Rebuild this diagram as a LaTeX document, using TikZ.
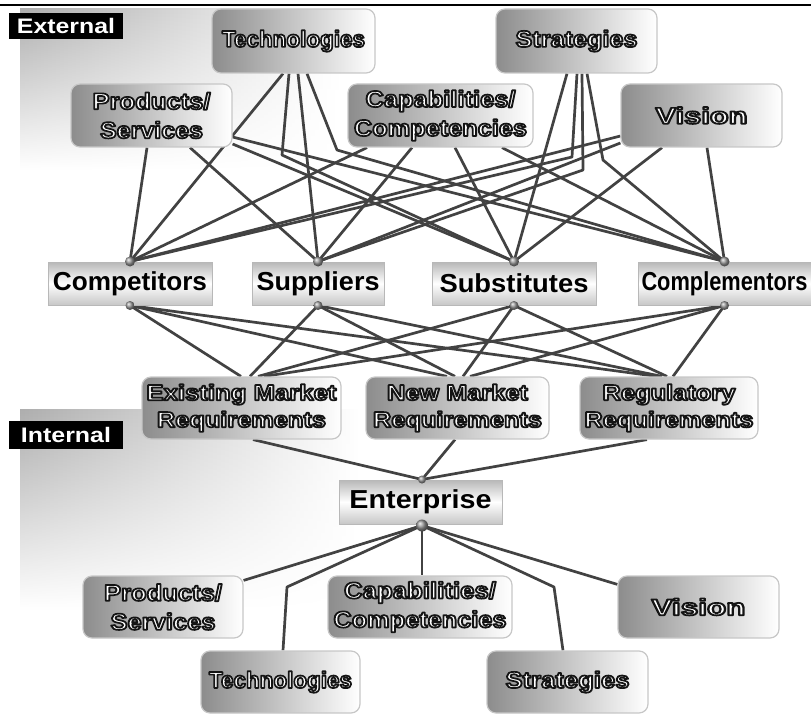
\documentclass[tikz,border=0pt]{standalone}
\usepackage{fontspec}
\setmainfont{Liberation Sans}
\usepackage{graphicx}
\usetikzlibrary{fadings}

\pgfdeclarelayer{bg}
\pgfdeclarelayer{edges}
\pgfsetlayers{bg,edges,main}

% stretch a line of text horizontally to a given width, keeping its height
\newcommand\fitw[2]{\resizebox{#1pt}{\height}{#2}}
% white lettering with a dark outline (fill + stroke render mode), stretched to a width
\newcommand\ow[2]{\fitw{#1}{%
  \special{pdf:literal direct q 2 Tr 1.7 w 1 j 0.08 0.08 0.08 RG}#2\special{pdf:literal direct Q}}}

\tikzset{
  item/.style={rounded corners=9pt, draw=black!22, line width=1.2pt,
    left color=black!45, right color=white, text=white, align=center,
    inner sep=0pt, font=\bfseries\fontsize{23}{29}\selectfont},
  req/.style={item, font=\bfseries\fontsize{22}{27}\selectfont},
  actor/.style={draw=black!28, line width=1pt, top color=black!28,
    bottom color=black!22, middle color=white, inner sep=0pt,
    font=\bfseries\fontsize{26}{28}\selectfont},
  tag/.style={fill=black, text=white, inner sep=0pt,
    font=\bfseries\fontsize{21}{22}\selectfont},
  link/.style={draw=black!74, line width=2.7pt, line join=round},
  joint/.style={circle, inner sep=0pt, minimum size=10pt, ball color=black!40},
}

\begin{document}
\begin{tikzpicture}[x=1pt,y=-1pt]
\useasboundingbox (0,0) rectangle (811,714);

% shaded zones behind the two halves
\begin{pgfonlayer}{bg}
  \shade[left color=black!32, right color=white, path fading=south]
    (20,8) rectangle (340,170);
  \shade[left color=black!32, right color=white, path fading=south]
    (20,410) rectangle (360,610);
\end{pgfonlayer}

% rule across the top
\draw[line width=2.6pt] (0,5) -- (811,5);

% zone tags
\node[tag, minimum width=114pt, minimum height=26pt] (ext) at (66,26) {\fitw{98}{External}};
\node[tag, minimum width=114pt, minimum height=28pt] (int) at (66,435) {\fitw{90}{Internal}};

% external factors
\node[item, minimum width=163pt, minimum height=64pt] (tT) at (293.5,41) {\ow{143}{Technologies}};
\node[item, minimum width=161pt, minimum height=64pt] (tS) at (576.5,41) {\ow{122}{Strategies}};
\node[item, minimum width=161pt, minimum height=63pt] (tP) at (151.5,115.5) {\ow{118}{Products/}\\\ow{103}{Services}};
\node[item, minimum width=185pt, minimum height=63pt] (tC) at (440.5,115.5) {\ow{150}{Capabilities/}\\\ow{173}{Competencies}};
\node[item, minimum width=161pt, minimum height=63pt] (tV) at (701.5,115.5) {\ow{92}{Vision}};

% market players
\node[actor, minimum width=164pt, minimum height=43pt] (mA) at (130,283.5) {\fitw{154}{Competitors}};
\node[actor, minimum width=132pt, minimum height=43pt] (mB) at (318,283.5) {\fitw{123}{Suppliers}};
\node[actor, minimum width=164pt, minimum height=43pt] (mC) at (514,283.5) {\fitw{149}{Substitutes}};
\node[actor, minimum width=173pt, minimum height=43pt] (mD) at (724.5,283.5) {\fitw{166}{Complementors}};

% requirements
\node[req, minimum width=199pt, minimum height=62pt] (rE) at (241.5,408) {\ow{190}{Existing Market}\\\ow{169}{Requirements}};
\node[req, minimum width=183pt, minimum height=62pt] (rN) at (457.5,408) {\ow{141}{New Market}\\\ow{169}{Requirements}};
\node[req, minimum width=178pt, minimum height=62pt] (rR) at (669,408) {\ow{133}{Regulatory}\\\ow{169}{Requirements}};

% the enterprise
\node[actor, minimum width=163pt, minimum height=44pt] (en) at (420.5,502) {\fitw{142}{Enterprise}};

% internal factors
\node[item, minimum width=160pt, minimum height=62pt] (bP) at (163,607) {\ow{118}{Products/}\\\ow{105}{Services}};
\node[item, minimum width=184pt, minimum height=62pt] (bC) at (420,607) {\ow{152}{Capabilities/}\\\ow{173}{Competencies}};
\node[item, minimum width=161pt, minimum height=62pt] (bV) at (698.5,607) {\ow{94}{Vision}};
\node[item, minimum width=159pt, minimum height=62pt] (bT) at (280.5,682) {\ow{143}{Technologies}};
\node[item, minimum width=161pt, minimum height=62pt] (bS) at (567.5,682) {\ow{124}{Strategies}};

% connection points
\node[joint] (mAt) at (mA.north) {};
\node[joint] (mBt) at (mB.north) {};
\node[joint] (mCt) at (mC.north) {};
\node[joint] (mDt) at (mD.north) {};
\node[joint, minimum size=9pt] (mAb) at (mA.south) {};
\node[joint, minimum size=9pt] (mBb) at (mB.south) {};
\node[joint, minimum size=9pt] (mCb) at (mC.south) {};
\node[joint, minimum size=9pt] (mDb) at (mD.south) {};
\node[joint, minimum size=8pt] (enT) at ([xshift=1.5pt]en.north) {};
\node[joint, minimum size=12pt] (enB) at ([xshift=1.5pt,yshift=-1pt]en.south) {};

% bends
\coordinate (k1) at (282,155);
\coordinate (k2) at (337,150);
\coordinate (k3) at (572,157);
\coordinate (k4) at (583,170);
\coordinate (k5) at (603,160);
\coordinate (k6) at (287,587);
\coordinate (k7) at (554,587);

\begin{pgfonlayer}{edges}
  % technologies
  \draw[link] ([xshift=-10.5pt]tT.south) -- (mAt.center);
  \draw[link] ([xshift=-4.5pt]tT.south) -- (k1) -- (mCt.center);
  \draw[link] ([xshift=4.5pt]tT.south) -- (mBt.center);
  \draw[link] ([xshift=13.5pt]tT.south) -- (k2) -- (mDt.center);
  % products / services
  \draw[link] ([xshift=-4.5pt]tP.south) -- (mAt.center);
  \draw[link] ([xshift=38.5pt]tP.south) -- (mBt.center);
  \draw[link] ([yshift=-21.5pt]tP.east) -- (mDt.center);
  \draw[link] ([yshift=-28.5pt]tP.east) -- (mCt.center);
  % capabilities / competencies
  \draw[link] ([xshift=-73.5pt]tC.south) -- (mAt.center);
  \draw[link] ([xshift=-28.5pt]tC.south) -- (mBt.center);
  \draw[link] ([xshift=14.5pt]tC.south) -- (mCt.center);
  \draw[link] ([xshift=61.5pt]tC.south) -- (mDt.center);
  % strategies
  \draw[link] ([xshift=-9.5pt]tS.south) -- (mCt.center);
  \draw[link] ([xshift=0.5pt]tS.south) -- (k3) -- (mAt.center);
  \draw[link] ([xshift=5.5pt]tS.south) -- (k4) -- (mBt.center);
  \draw[link] ([xshift=10.5pt]tS.south) -- (k5) -- (mDt.center);
  % vision
  \draw[link] ([yshift=-20.5pt]tV.west) -- (mAt.center);
  \draw[link] ([yshift=-27.5pt]tV.west) -- (mBt.center);
  \draw[link] ([xshift=-39.5pt]tV.south) -- (mCt.center);
  \draw[link] ([xshift=5.5pt]tV.south) -- (mDt.center);
  % players to requirements
  \draw[link] (mAb.center) -- ([xshift=-0.5pt]rE.north);
  \draw[link] (mBb.center) -- ([xshift=8.5pt]rE.north);
  \draw[link] (mCb.center) -- ([xshift=16.5pt]rE.north);
  \draw[link] (mDb.center) -- ([xshift=22.5pt]rE.north);
  \draw[link] (mAb.center) -- ([xshift=-10.5pt]rN.north);
  \draw[link] (mBb.center) -- ([xshift=-2.5pt]rN.north);
  \draw[link] (mCb.center) -- ([xshift=5.5pt]rN.north);
  \draw[link] (mDb.center) -- ([xshift=12.5pt]rN.north);
  \draw[link] (mAb.center) -- ([xshift=-12pt]rR.north);
  \draw[link] (mBb.center) -- ([xshift=-7pt]rR.north);
  \draw[link] (mCb.center) -- ([xshift=-2pt]rR.north);
  \draw[link] (mDb.center) -- ([xshift=4pt]rR.north);
  % requirements to the enterprise
  \draw[link] ([xshift=11.5pt]rE.south) -- (enT.center);
  \draw[link] ([xshift=-2.5pt]rN.south) -- (enT.center);
  \draw[link] ([xshift=-22pt]rR.south) -- (enT.center);
  % enterprise to internal factors
  \draw[link] (enB.center) -- ([yshift=-5pt]bP.north east);
  \draw[link] (enB.center) -- (k6) -- ([xshift=2.5pt]bT.north);
  \draw[link] (enB.center) -- ([xshift=2pt]bC.north);
  \draw[link] (enB.center) -- (k7) -- ([xshift=-4.5pt]bS.north);
  \draw[link] (enB.center) -- ([yshift=-9pt]bV.north west);
\end{pgfonlayer}
\end{tikzpicture}
\end{document}
